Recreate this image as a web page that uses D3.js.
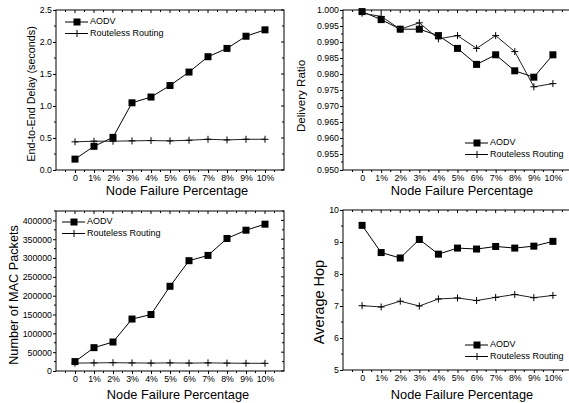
<!DOCTYPE html>
<html>
<head>
<meta charset="utf-8">
<script src="https://cdn.jsdelivr.net/npm/d3@7"></script>
<style>
  body { margin: 0; background: #fff; }
  svg { font-family: "Liberation Sans", Arial, sans-serif; }
</style>
</head>
<body>
<svg width="569" height="403"></svg>
<script>
var categories = ['0', '1%', '2%', '3%', '4%', '5%', '6%', '7%', '8%', '9%', '10%'];
var seriesNames = ['AODV', 'Routeless Routing'];

var delayAodv = [0.17, 0.37, 0.51, 1.05, 1.14, 1.32, 1.53, 1.77, 1.90, 2.09, 2.19];
var delayRouteless = [0.44, 0.45, 0.45, 0.455, 0.46, 0.455, 0.465, 0.48, 0.47, 0.48, 0.48];

var ratioAodv = [0.9995, 0.997, 0.994, 0.994, 0.992, 0.988, 0.983, 0.986, 0.981, 0.979, 0.986];
var ratioRouteless = [0.999, 0.998, 0.994, 0.996, 0.991, 0.992, 0.988, 0.992, 0.987, 0.976, 0.977];

var macAodv = [25000, 62000, 77000, 138000, 150000, 225000, 293000, 307000, 352000, 374000, 390000];
var macRouteless = [21000, 21500, 22000, 21500, 21000, 21500, 21000, 21500, 21000, 20500, 20500];

var hopAodv = [9.52, 8.67, 8.50, 9.08, 8.62, 8.81, 8.78, 8.86, 8.81, 8.87, 9.02];
var hopRouteless = [7.01, 6.97, 7.15, 7.00, 7.22, 7.25, 7.17, 7.27, 7.36, 7.26, 7.33];

var svg = d3.select('svg');

var panels = [
  { l: 56, r: 284, t: 10, b: 170, yDomain: [0, 2.5], step: 0.5, fmt: '.1f',
    yLabel: 'End-to-End Delay (seconds)', yLabelX: 32, yLabelY: 94, yLabelSize: 10.8,
    xLabelX: 177, xLabelY: 194.5,
    legend: { x: 65, y: 22 }, data: [delayAodv, delayRouteless] },
  { l: 343, r: 572, t: 10, b: 170, yDomain: [0.95, 1.0], step: 0.005, fmt: '.3f',
    yLabel: 'Delivery Ratio', yLabelX: 302, yLabelY: 96, yLabelSize: 11.6,
    xLabelX: 462, xLabelY: 194.5,
    legend: { x: 465, y: 143 }, data: [ratioAodv, ratioRouteless] },
  { l: 56, r: 284, t: 211, b: 371, yDomain: [0, 425000], step: 50000, fmt: 'd', yMax: 400000,
    yLabel: 'Number of MAC Packets', yLabelX: 15, yLabelY: 295, yLabelSize: 12.7,
    xLabelX: 178, xLabelY: 399,
    legend: { x: 62, y: 222 }, data: [macAodv, macRouteless] },
  { l: 343, r: 572, t: 210, b: 370, yDomain: [5, 10], step: 1, fmt: 'd',
    yLabel: 'Average Hop', yLabelX: 320, yLabelY: 302, yLabelSize: 14.5,
    xLabelX: 462, xLabelY: 399,
    legend: { x: 465, y: 345 }, data: [hopAodv, hopRouteless] }
];

panels.forEach(drawPanel);

function drawPanel(p) {
  var g = svg.append('g');
  var x = d3.scaleLinear().domain([-1, 11]).range([p.l, p.r]);
  var y = d3.scaleLinear().domain(p.yDomain).range([p.b, p.t]);
  var yTop = p.yMax !== undefined ? p.yMax : p.yDomain[1];

  // y ticks
  var majors = d3.range(0, Math.round((yTop - p.yDomain[0]) / p.step) + 1)
    .map(i => p.yDomain[0] + i * p.step);
  var minors = d3.range(0, Math.round((p.yDomain[1] - p.yDomain[0]) / (p.step / 2)) + 1)
    .map(i => p.yDomain[0] + i * p.step / 2)
    .filter(v => majors.every(m => Math.abs(m - v) > 1e-9));

  var axisY = d3.axisLeft(y).tickValues(majors).tickSize(3).tickPadding(1)
    .tickFormat(d3.format(p.fmt));
  var yAxisG = g.append('g').attr('transform', 'translate(' + p.l + ',0)').call(axisY);
  yAxisG.select('.domain').remove();
  yAxisG.selectAll('text').style('font-size', '8.8px').attr('fill', '#000');

  majors.forEach(function(v) {
    g.append('line').attr('x1', p.r).attr('x2', p.r - 3).attr('y1', y(v)).attr('y2', y(v)).attr('stroke', '#000');
  });
  minors.forEach(function(v) {
    g.append('line').attr('x1', p.l).attr('x2', p.l - 2).attr('y1', y(v)).attr('y2', y(v)).attr('stroke', '#000');
    g.append('line').attr('x1', p.r).attr('x2', p.r - 2).attr('y1', y(v)).attr('y2', y(v)).attr('stroke', '#000');
  });

  // x ticks
  var axisX = d3.axisBottom(x).tickValues(d3.range(0, 11)).tickSize(3).tickPadding(2)
    .tickFormat(i => categories[i]);
  var xAxisG = g.append('g').attr('transform', 'translate(0,' + p.b + ')').call(axisX);
  xAxisG.select('.domain').remove();
  xAxisG.selectAll('text').style('font-size', '8.8px').attr('fill', '#000');
  d3.range(-0.5, 11, 0.5).forEach(function(v) {
    var major = Number.isInteger(v);
    if (!(major && v >= 0 && v <= 10)) {
      g.append('line').attr('x1', x(v)).attr('x2', x(v)).attr('y1', p.b).attr('y2', p.b + (major ? 3 : 2)).attr('stroke', '#000');
    }
    g.append('line').attr('x1', x(v)).attr('x2', x(v)).attr('y1', p.t).attr('y2', p.t + (major ? 3 : 2)).attr('stroke', '#000');
  });

  // frame
  g.append('rect').attr('x', p.l).attr('y', p.t).attr('width', p.r - p.l).attr('height', p.b - p.t)
    .attr('fill', 'none').attr('stroke', '#000').attr('stroke-width', 1);

  // labels
  g.append('text').text(p.yLabel)
    .attr('transform', 'translate(' + p.yLabelX + ',' + p.yLabelY + ') rotate(-90)')
    .attr('text-anchor', 'middle').attr('dominant-baseline', 'middle')
    .style('font-size', p.yLabelSize + 'px');
  g.append('text').text('Node Failure Percentage')
    .attr('x', p.xLabelX).attr('y', p.xLabelY)
    .attr('text-anchor', 'middle').style('font-size', '12.8px');

  // series
  var line = d3.line().x((d, i) => x(i)).y(d => y(d));
  p.data.forEach(function(vals, s) {
    g.append('path').datum(vals).attr('d', line)
      .attr('fill', 'none').attr('stroke', s === 0 ? '#000' : '#222').attr('stroke-width', 1);
    vals.forEach(function(v, i) {
      drawMarker(g, s, x(i), y(v));
    });
  });

  // legend
  seriesNames.forEach(function(name, s) {
    var ly = p.legend.y + s * 11.5;
    g.append('line').attr('x1', p.legend.x).attr('x2', p.legend.x + 23)
      .attr('y1', ly).attr('y2', ly).attr('stroke', '#000');
    drawMarker(g, s, p.legend.x + 12, ly);
    g.append('text').text(name).attr('x', p.legend.x + 25).attr('y', ly)
      .attr('dominant-baseline', 'middle').style('font-size', '9px');
  });
}

function drawMarker(g, s, cx, cy) {
  if (s === 0) {
    g.append('rect').attr('x', cx - 3.5).attr('y', cy - 3.5).attr('width', 7).attr('height', 7).attr('fill', '#000');
  } else {
    g.append('path').attr('d', 'M' + (cx - 3.5) + ',' + cy + 'H' + (cx + 3.5) + 'M' + cx + ',' + (cy - 3.5) + 'V' + (cy + 3.5))
      .attr('stroke', '#000').attr('stroke-width', 1);
  }
}
</script>
</body>
</html>
